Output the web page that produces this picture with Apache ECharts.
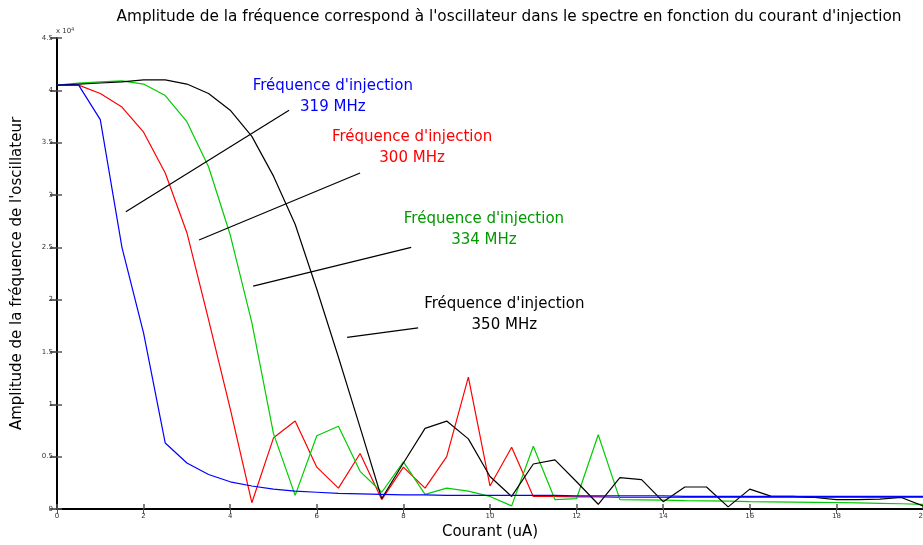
<!DOCTYPE html>
<html>
<head>
<meta charset="utf-8">
<script src="https://cdn.jsdelivr.net/npm/echarts@6/dist/echarts.min.js"></script>
<style>
  html, body { margin: 0; padding: 0; background: #fff; }
  #chart { width: 923px; height: 545px; }
</style>
</head>
<body>
<div id="chart"></div>
<script>
// courant d'injection (uA), pas de 0.5
const courant = [];
for (let i = 0; i <= 40; i++) courant.push(i * 0.5);

// amplitudes en unités de 1e4
const amp319 = [4.05, 4.05, 3.72, 2.50, 1.68, 0.63, 0.44, 0.33, 0.26, 0.22, 0.19, 0.17, 0.16, 0.15, 0.145, 0.14,
  0.135, 0.135, 0.13, 0.13, 0.13, 0.13, 0.13, 0.13, 0.125, 0.125, 0.125, 0.125, 0.125, 0.12, 0.12, 0.12, 0.12,
  0.12, 0.12, 0.12, 0.12, 0.12, 0.12, 0.12, 0.12];
const amp300 = [4.05, 4.05, 3.97, 3.84, 3.60, 3.21, 2.64, 1.81, 0.96, 0.06, 0.68, 0.84, 0.40, 0.20, 0.53, 0.09,
  0.40, 0.20, 0.50, 1.26, 0.22, 0.59, 0.12, 0.12, 0.115, 0.115, 0.11, 0.11, 0.11, 0.11, 0.11, 0.11, 0.11,
  0.11, 0.11, 0.11, 0.11, 0.11, 0.11, 0.11, 0.11];
const amp334 = [4.05, 4.07, 4.08, 4.09, 4.06, 3.95, 3.70, 3.27, 2.62, 1.78, 0.72, 0.13, 0.70, 0.79, 0.36, 0.16,
  0.45, 0.14, 0.20, 0.17, 0.12, 0.03, 0.60, 0.09, 0.10, 0.71, 0.09, 0.088, 0.085, 0.08, 0.078, 0.075, 0.07,
  0.068, 0.066, 0.064, 0.062, 0.058, 0.054, 0.05, 0.045];
const amp350 = [4.05, 4.06, 4.07, 4.08, 4.10, 4.10, 4.06, 3.97, 3.81, 3.56, 3.18, 2.72, 2.10, 1.45, 0.78, 0.10,
  0.44, 0.77, 0.84, 0.67, 0.31, 0.12, 0.43, 0.47, 0.26, 0.045, 0.30, 0.28, 0.07, 0.21, 0.21, 0.02, 0.19,
  0.12, 0.12, 0.11, 0.09, 0.09, 0.095, 0.11, 0.03];

// étiquettes et traits de rappel (coordonnées données)
const labelText = ["Fréquence d'injection\n319 MHz", "Fréquence d'injection\n300 MHz",
  "Fréquence d'injection\n334 MHz", "Fréquence d'injection\n350 MHz"];
const labelPos = [[6.37, 3.94], [8.2, 3.45], [9.86, 2.67], [10.33, 1.86]];
const labelColor = ['#0000ff', '#ff0000', '#009900', '#000000'];
const leaders = [
  [[1.59, 2.84], [5.36, 3.81]],
  [[3.28, 2.57], [7.0, 3.21]],
  [[4.53, 2.13], [8.18, 2.50]],
  [[6.70, 1.64], [8.34, 1.73]]
];

const chart = echarts.init(document.getElementById('chart'));
const FONT = 'DejaVu Sans';

function lineSerie(data, color) {
  return {
    type: 'line',
    data: data.map((v, i) => [courant[i], v * 1e4]),
    symbol: 'none',
    silent: true,
    lineStyle: { width: 1.2, color: color }
  };
}

const series = [
  lineSerie(amp300, '#ff0000'),
  lineSerie(amp334, '#00cc00'),
  lineSerie(amp350, '#000000'),
  lineSerie(amp319, '#0000ff')
];

leaders.forEach(seg => {
  series.push({
    type: 'line',
    data: seg.map(p => [p[0], p[1] * 1e4]),
    symbol: 'none',
    silent: true,
    lineStyle: { width: 1.2, color: '#000' }
  });
});

series.push({
  type: 'scatter',
  symbolSize: 0,
  silent: true,
  itemStyle: { opacity: 1 },
  data: labelPos.map((p, i) => ({
    value: [p[0], p[1] * 1e4],
    label: {
      show: true,
      position: 'inside',
      formatter: labelText[i],
      color: labelColor[i],
      opacity: 1,
      fontFamily: FONT,
      fontSize: 15,
      lineHeight: 21,
      align: 'center'
    }
  }))
});

const tickLabel = { fontSize: 7, color: '#333', fontFamily: FONT };

chart.setOption({
  animation: false,
  title: {
    text: "Amplitude de la fréquence correspond à l'oscillateur dans le spectre en fonction du courant d'injection",
    left: 504, top: 5, textAlign: 'center',
    textStyle: { fontFamily: FONT, fontSize: 15.3, fontWeight: 'normal', color: '#000' }
  },
  grid: {
    left: 57, right: 0, top: 38, bottom: 36,
    outerBoundsMode: 'none',
    show: false
  },
  graphic: [{
    type: 'text', left: 56, top: 27,
    style: {
      text: 'x 10{s|4}',
      rich: { s: { fontSize: 5, verticalAlign: 'top', padding: [0, 0, 4, 0] } },
      fontSize: 7, fill: '#333', fontFamily: FONT
    }
  }],
  xAxis: [{
    type: 'value', min: 0, max: 20, interval: 2,
    name: 'Courant (uA)', nameLocation: 'middle', nameGap: 15,
    nameTextStyle: { fontFamily: FONT, fontSize: 15, color: '#000' },
    axisLine: { lineStyle: { color: '#000', width: 2 } },
    axisTick: { inside: true, length: 5, lineStyle: { color: '#555', width: 1.5 } },
    axisLabel: Object.assign({ margin: 4 }, tickLabel),
    splitLine: { show: false }
  }, {
    type: 'value', min: 0, max: 20, interval: 2, position: 'top',
    axisLine: { lineStyle: { color: '#000', width: 2 } },
    axisTick: { inside: true, length: 5, lineStyle: { color: '#555' } },
    axisLabel: { show: false }, splitLine: { show: false }
  }],
  yAxis: [{
    type: 'value', min: 0, max: 45000, interval: 5000,
    name: "Amplitude de la fréquence de l'oscillateur", nameLocation: 'middle', nameGap: 32,
    nameTextStyle: { fontFamily: FONT, fontSize: 15, color: '#000' },
    axisLine: { lineStyle: { color: '#000', width: 2 } },
    axisTick: { inside: true, length: 5, lineStyle: { color: '#555', width: 1.5 } },
    axisLabel: Object.assign({ margin: 4, formatter: v => String(v / 1e4) }, tickLabel),
    splitLine: { show: false }
  }, {
    type: 'value', min: 0, max: 45000, interval: 5000, position: 'right',
    axisLine: { show: false },
    axisTick: { inside: true, length: 7, lineStyle: { color: '#333', width: 1.5 } },
    axisLabel: { show: false }, splitLine: { show: false }
  }],
  series: series
});
</script>
</body>
</html>
